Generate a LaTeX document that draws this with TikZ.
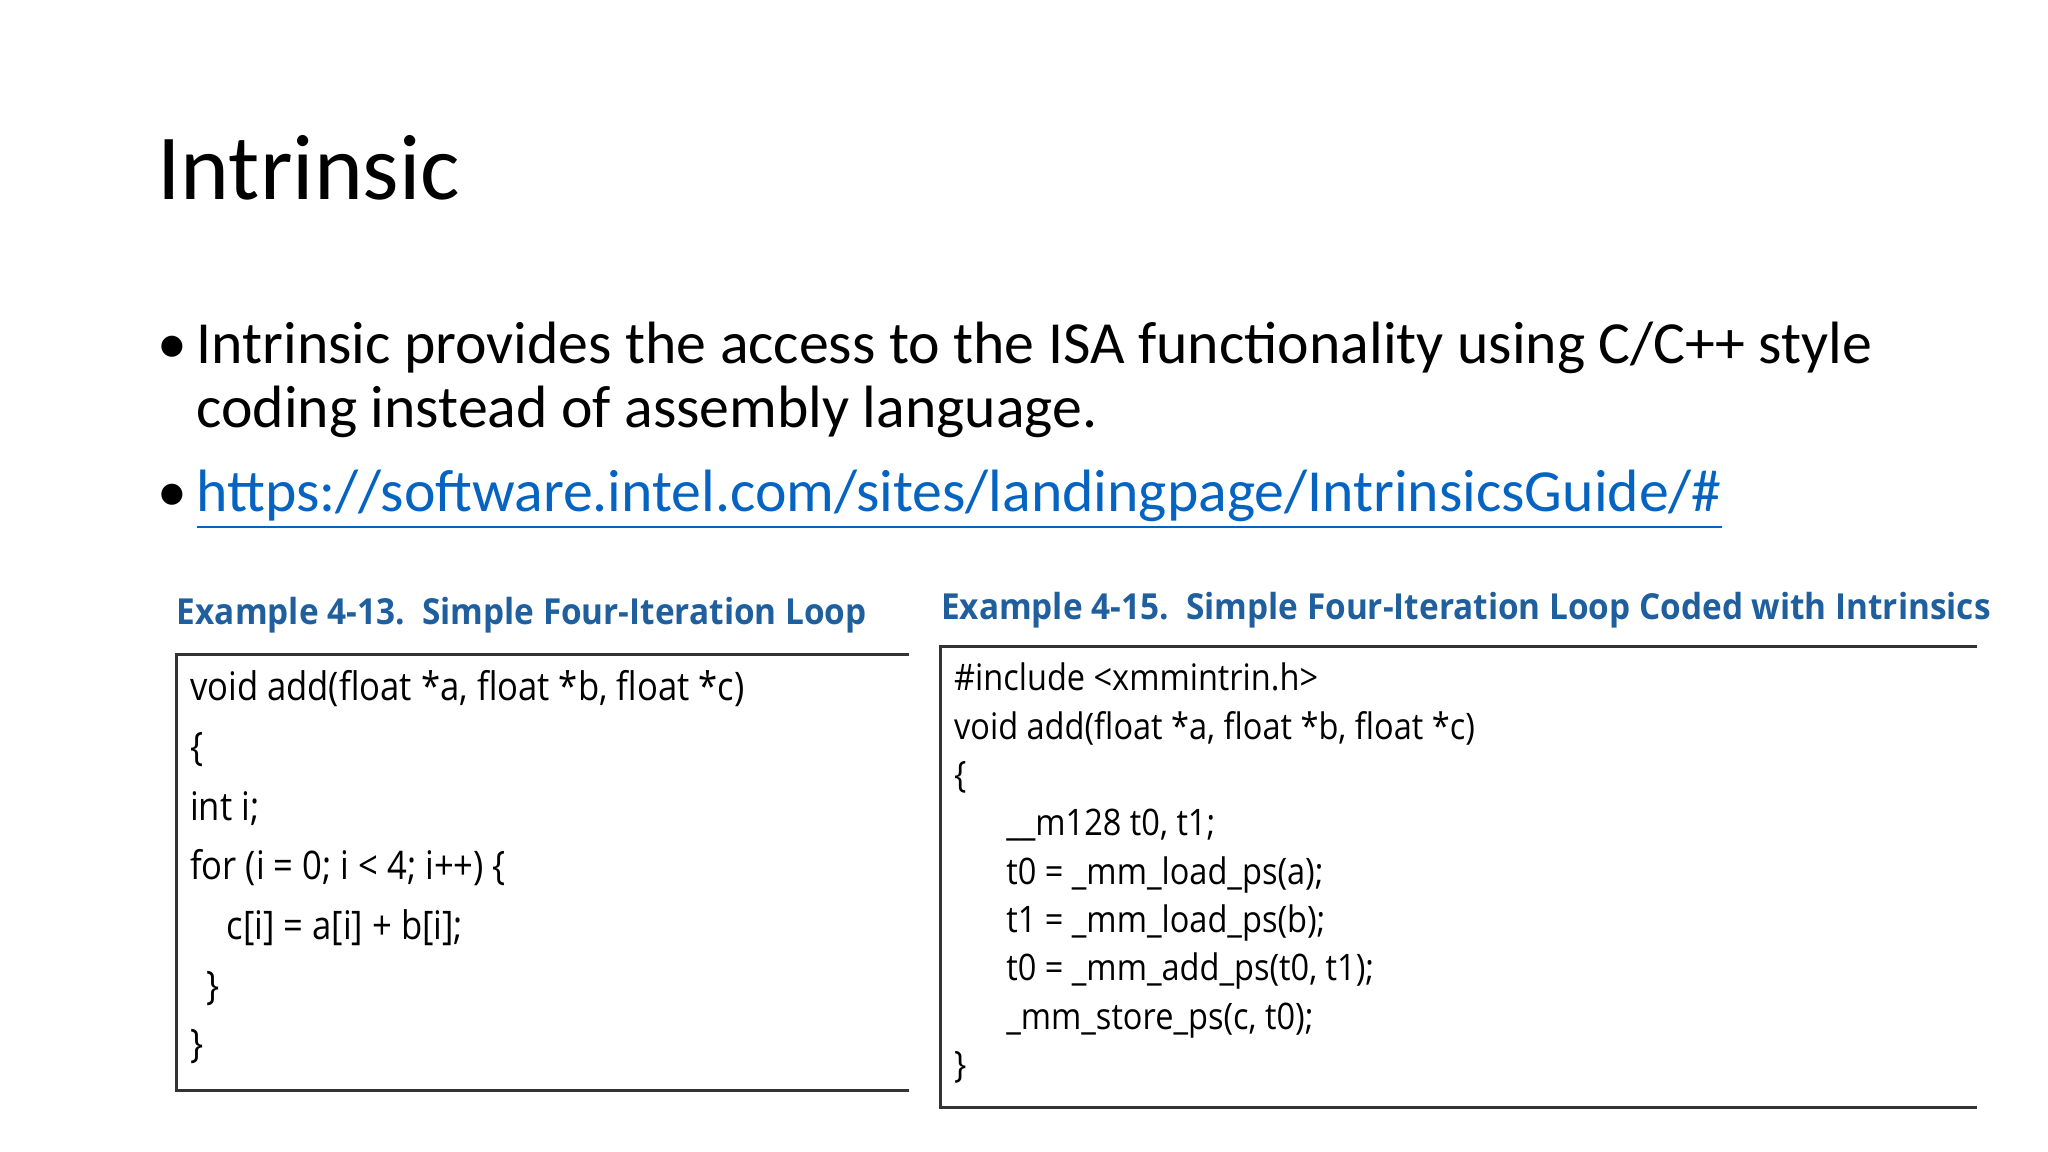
\documentclass[tikz,border=0pt]{standalone}
\usepackage{fontspec}
\setmainfont{Carlito}
\newfontfamily\codefont{Open Sans}
\definecolor{headblue}{HTML}{1F5F9E}
\definecolor{linkblue}{HTML}{0563C1}
\begin{document}
\begin{tikzpicture}[x=0.01306cm,y=-0.01306cm,
  title/.style={anchor=base west,inner sep=0,font=\fontsize{26.5}{32}\selectfont},
  bul/.style={anchor=base west,inner sep=0,font=\fontsize{17}{20}\selectfont},
  head/.style={anchor=base west,inner sep=0,xscale=0.93,text=headblue,font=\codefont\bfseries\fontsize{10.2}{12}\selectfont},
  codel/.style={anchor=base west,inner sep=0,xscale=0.88,font=\codefont\fontsize{11.2}{13}\selectfont},
  coder/.style={anchor=base west,inner sep=0,xscale=0.89,font=\codefont\fontsize{10.4}{12}\selectfont},
  frame/.style={line width=1pt,black!80}]
\useasboundingbox[fill=white] (0,0) rectangle (1568,882);
\node[title] (t) at (120,153) {Intrinsic};
\node[bul] (b1) at (120,278) {•};
\node[bul] (l1) at (150,278) {Intrinsic provides the access to the ISA functionality using C/C++ style};
\node[bul] (l2) at (150,327) {coding instead of assembly language.};
\node[bul] (b2) at (120,392) {•};
\node[bul,text=linkblue] (l3) at (150,392) {\underline{https://software.intel.com/sites/landingpage/IntrinsicsGuide/\#}};
% left example
\node[head] (h1) at (135,478) {Example 4-13.\ \ Simple Four-Iteration Loop};
\draw[frame] (696,501) -- (135,501) -- (135,835) -- (696,835);
\node[codel] (a1) at (145,536) {void add(float *a, float *b, float *c)};
\node[codel] (a2) at (145,582) {\{};
\node[codel] (a3) at (145,628) {int i;};
\node[codel] (a4) at (145,673) {for (i = 0; i < 4; i++) \{};
\node[codel] (a5) at (173,719) {c[i] = a[i] + b[i];};
\node[codel] (a6) at (158,765) {\}};
\node[codel] (a7) at (145,810) {\}};
% right example
\node[head] (h2) at (720,474) {Example 4-15.\ \ Simple Four-Iteration Loop Coded with Intrinsics};
\draw[frame] (1514,495) -- (720,495) -- (720,848) -- (1514,848);
\node[coder] (r1) at (730,529) {\#include <xmmintrin.h>};
\node[coder] (r2) at (730,566) {void add(float *a, float *b, float *c)};
\node[coder] (r3) at (730,603) {\{};
\node[coder] (r4) at (770,640) {\_\_m128 t0, t1;};
\node[coder] (r5) at (770,677) {t0 = \_mm\_load\_ps(a);};
\node[coder] (r6) at (770,714) {t1 = \_mm\_load\_ps(b);};
\node[coder] (r7) at (770,751) {t0 = \_mm\_add\_ps(t0, t1);};
\node[coder] (r8) at (770,788) {\_mm\_store\_ps(c, t0);};
\node[coder] (r9) at (730,825) {\}};
\end{tikzpicture}
\end{document}
